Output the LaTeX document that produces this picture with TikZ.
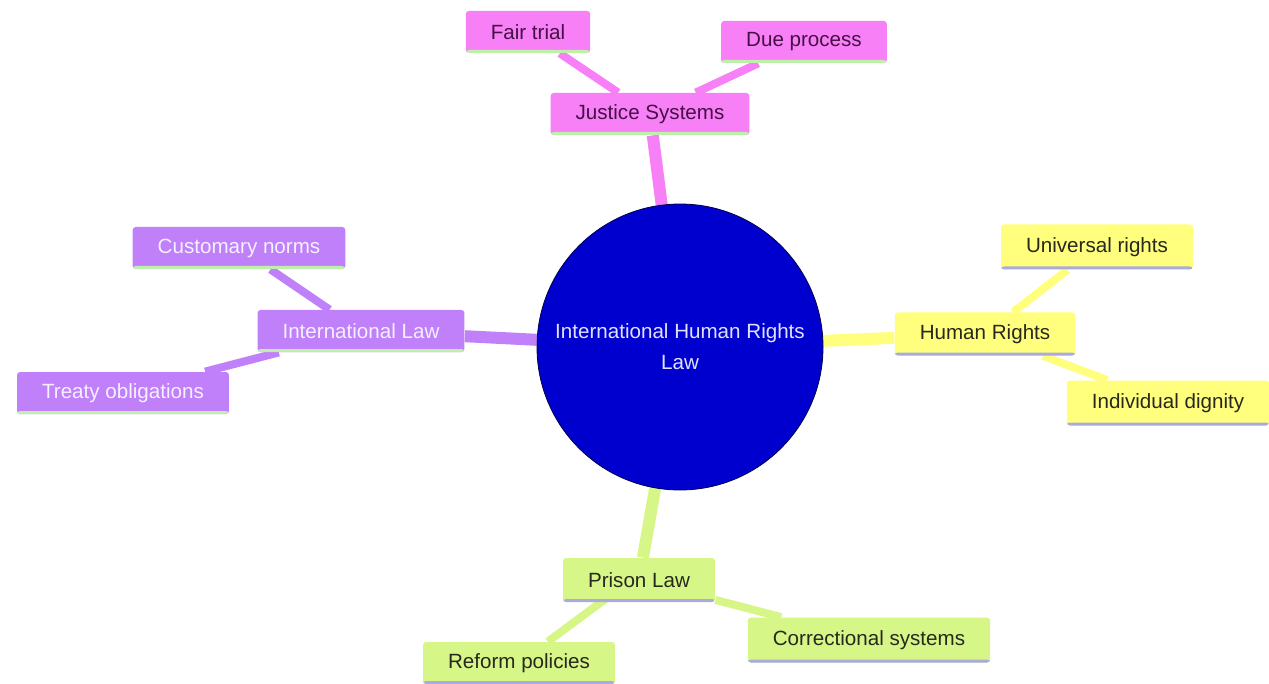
\documentclass[tikz,border=0pt]{standalone}
\usepackage{fontspec}
\setmainfont{Liberation Sans}
\usetikzlibrary{backgrounds}
\definecolor{hubblue}{RGB}{0,0,206}
\definecolor{hubtext}{RGB}{225,225,255}
\definecolor{pinkfill}{RGB}{247,128,247}
\definecolor{purplefill}{RGB}{192,128,250}
\definecolor{yellowfill}{RGB}{255,255,125}
\definecolor{limefill}{RGB}{214,247,135}
\definecolor{greenline}{RGB}{190,240,170}
\definecolor{blueline}{RGB}{170,170,225}
\definecolor{pinktext}{RGB}{70,15,70}
\definecolor{darktext}{RGB}{40,40,30}
\definecolor{lighttext}{RGB}{245,240,255}
\begin{document}
\begin{tikzpicture}[x=0.5pt,y=-0.5pt,
    box/.style={rounded corners=1.5pt, inner xsep=12.5pt, minimum height=21pt,
      font=\fontsize{10.3}{12}\selectfont,
      path picture={\fill[#1] ([yshift=1.5pt]path picture bounding box.south west)
        rectangle (path picture bounding box.south east);}},
    hub/.style={circle, fill=hubblue, draw=black!70!blue, line width=0.4pt,
      minimum size=143pt, inner sep=0pt, text=hubtext, align=center,
      font=\fontsize{10.3}{15.5}\selectfont},
    pinkbox/.style={box=greenline, fill=pinkfill, text=pinktext},
    purplebox/.style={box=greenline, fill=purplefill, text=lighttext},
    yellowbox/.style={box=blueline, fill=yellowfill, text=darktext},
    limebox/.style={box=blueline, fill=limefill, text=darktext},
    trunk/.style={line width=6pt},
    twig/.style={line width=4pt}]
  \useasboundingbox (0,0) rectangle (1269,684);
  \draw
    (680,347) node[hub] (hrl) {International Human Rights\\Law}
    (650,114) node[pinkbox] (justice) {Justice Systems}
    (528,32) node[pinkbox] (fair) {Fair trial}
    (804,42) node[pinkbox] (due) {Due process}
    (361,331) node[purplebox] (intlaw) {International Law}
    (239,248) node[purplebox] (custom) {Customary norms}
    (123,393) node[purplebox] (treaty) {Treaty obligations}
    (985,334) node[yellowbox, minimum height=21.5pt] (rights) {Human Rights}
    (1097,247) node[yellowbox, minimum height=22.5pt] (universal) {Universal rights}
    (1168,403) node[yellowbox, minimum height=22.5pt] (dignity) {Individual dignity}
    (639,580) node[limebox, minimum height=22pt] (prison) {Prison Law}
    (519,663) node[limebox] (reform) {Reform policies}
    (869,640) node[limebox, minimum height=22.5pt] (correct) {Correctional systems};
  \begin{scope}[on background layer]
    \draw[trunk, pinkfill] (hrl) to (justice);
    \draw[twig, pinkfill] (justice) to (fair);
    \draw[twig, pinkfill] (justice) to (due);
    \draw[trunk, purplefill] (hrl) to (intlaw);
    \draw[twig, purplefill] (intlaw) to (custom);
    \draw[twig, purplefill] (intlaw) to (treaty);
    \draw[trunk, yellowfill] (hrl) to (rights);
    \draw[twig, yellowfill] (rights) to (universal);
    \draw[twig, yellowfill] (rights) to (dignity);
    \draw[trunk, limefill] (hrl) to (prison);
    \draw[twig, limefill] ([xshift=-4pt]prison.center) to (reform);
    \draw[twig, limefill] (prison) to (correct);
  \end{scope}
\end{tikzpicture}
\end{document}
